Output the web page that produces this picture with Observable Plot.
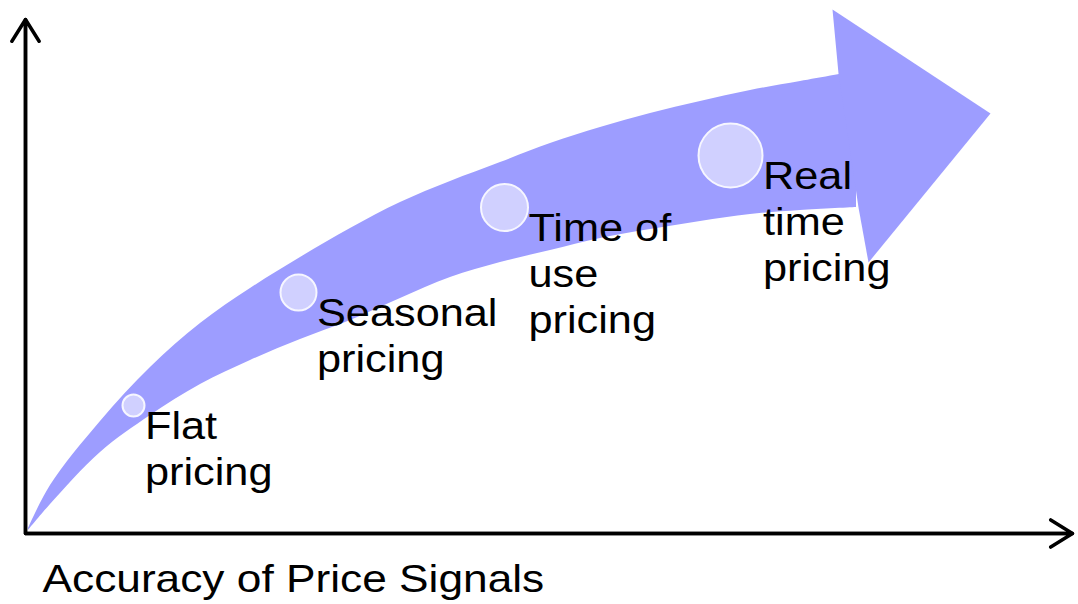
<!DOCTYPE html>
<html>
<head>
<meta charset="utf-8">
<script src="https://cdn.jsdelivr.net/npm/d3@7"></script>
<script src="https://cdn.jsdelivr.net/npm/@observablehq/plot@0.6"></script>
<style>
  html, body { margin: 0; padding: 0; background: #fff; }
  #chart svg { display: block; }
</style>
</head>
<body>
<div id="chart"></div>
<script>
// ---- Stages along the arrow (x = accuracy of price signals, y = benefit level) ----
const stageNames = ["Flat\npricing", "Seasonal\npricing", "Time of\nuse\npricing", "Real\ntime\npricing"];
const stageX = [108, 273, 479, 705];
const stageY = [128, 241, 326, 378];
const stageR = [11, 18, 23.5, 32];

// ---- Curved arrow body (upper and lower edge) ----
const bandX     = [3, 25, 75, 125, 175, 225, 275, 325, 375, 425, 475, 525, 575, 625, 675, 725, 775, 831];
const bandUpper = [5, 48, 112, 166, 210, 245, 276, 305, 331, 352, 371, 390, 406, 420, 432, 443, 452, 462];
const bandLower = [3, 29, 81, 118, 149, 173, 194, 213, 235, 256, 271, 283, 295, 304, 312, 319, 323, 326];

// ---- Arrow head outline ----
const headX = [813, 807, 965, 843, 833];
const headY = [460, 524, 420, 271, 326];

// ---- Axes extents and label ----
const axisXEnd = 1047;
const axisYEnd = 514;
const xAxisLabel = "Accuracy of Price Signals";

const band = bandX.map((x, i) => ({x, lower: bandLower[i], upper: bandUpper[i]}));
const head = headX.map((x, i) => ({x, y: headY[i]}));
const stages = stageNames.map((name, i) => ({name, x: stageX[i], y: stageY[i], r: stageR[i]}));
const axes = [
  {x1: 0, y1: 0, x2: 0, y2: axisYEnd},
  {x1: 0, y1: 0, x2: axisXEnd, y2: 0}
];
const corner = [{x: 0, y: axisYEnd}, {x: 0, y: 0}, {x: axisXEnd, y: 0}];

const arrowColor = "#9d9dff";
const font = "'Liberation Sans', Arial, Helvetica, sans-serif";

const plot = Plot.plot({
  width: 1078,
  height: 604,
  marginLeft: 25,
  marginRight: 0,
  marginTop: 0,
  marginBottom: 71,
  x: {domain: [0, 1053], axis: null},
  y: {domain: [0, 533], axis: null},
  r: {type: "identity"},
  style: {fontFamily: font, background: "#fff", overflow: "visible"},
  marks: [
    Plot.areaY(band, {x: "x", y1: "lower", y2: "upper", curve: "catmull-rom", fill: arrowColor}),
    Plot.line(head, {x: "x", y: "y", curve: "linear-closed", fill: arrowColor, stroke: "none"}),
    Plot.dot(stages, {x: "x", y: "y", r: "r", fill: "#d0d0ff", stroke: "#f6f6ff", strokeWidth: 2}),
    Plot.text(stages, {
      x: d => d.x + d.r + 0.5,
      y: d => d.y - 0.5,
      text: "name",
      textAnchor: "start",
      lineAnchor: "top",
      lineHeight: 1.18,
      fontSize: 39,
      fill: "#000"
    }),
    Plot.line(corner, {x: "x", y: "y", stroke: "#000", strokeWidth: 3.5, strokeLinejoin: "miter"}),
    Plot.arrow(axes, {
      x1: "x1", y1: "y1", x2: "x2", y2: "y2",
      stroke: "#000", strokeWidth: 3.5, headLength: 11, headAngle: 64
    }),
    Plot.text([xAxisLabel], {
      frameAnchor: "bottom-left",
      dx: 17,
      dy: 31,
      text: d => d,
      textAnchor: "start",
      lineAnchor: "top",
      fontSize: 39,
      fill: "#000"
    })
  ]
});

// Slight horizontal stretch of the text, as in the reference
const textGroups = plot.querySelectorAll('g[aria-label="text"]');
textGroups.forEach((g, gi) => {
  const sx = gi === textGroups.length - 1 ? 1.135 : 1.11;
  g.querySelectorAll("text").forEach(t => {
    const tr = t.getAttribute("transform");
    if (tr) t.setAttribute("transform", tr + ` scale(${sx},1)`);
  });
});

document.getElementById("chart").appendChild(plot);
</script>
</body>
</html>
